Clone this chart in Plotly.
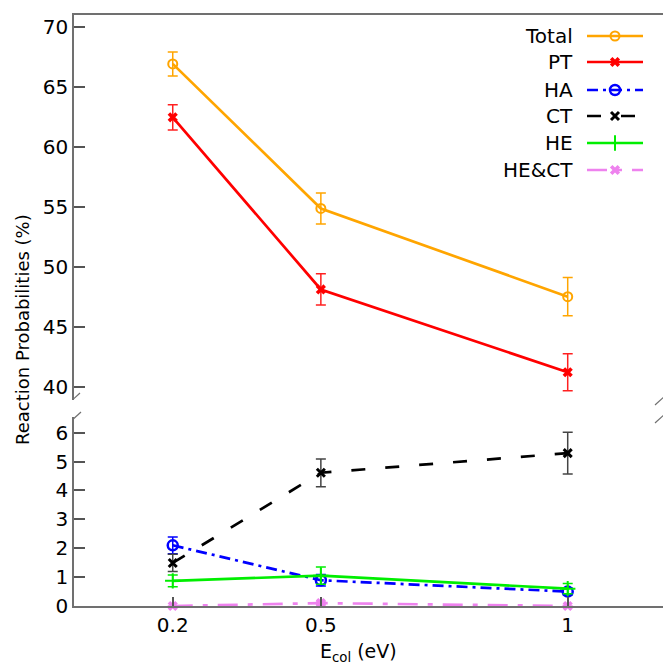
import plotly.graph_objects as go

# ---------------- data ----------------
energies = [0.2, 0.5, 1.0]
x_tick_text = ["0.2", "0.5", "1"]

total = [66.9, 54.85, 47.5]
total_err = [1.0, 1.3, 1.6]
pt = [62.45, 48.1, 41.2]
pt_err = [1.05, 1.3, 1.55]

ha = [2.1, 0.89, 0.5]
ha_err = [0.29, 0.2, 0.12]
ct = [1.49, 4.61, 5.29]
ct_err = [0.3, 0.48, 0.72]
he = [0.87, 1.05, 0.6]
he_err = [0.2, 0.3, 0.18]
hect = [0.0, 0.1, 0.0]
hect_err = [0.0, 0.04, 0.0]

upper_ticks = [40, 45, 50, 55, 60, 65, 70]
lower_ticks = [0, 1, 2, 3, 4, 5, 6]

FONT = "DejaVu Sans"
AXC = "#707070"

styles = {
    "Total": dict(color="#FFA500", dash="solid", symbol="circle-open", size=9, mlw=2, ecol="#FFA500"),
    "PT": dict(color="#FF0000", dash="solid", symbol="x", size=9, mlw=0, ecol="#FF2020"),
    "HA": dict(color="#0000FF", dash="11px,5px,3px,5px", symbol="circle-open", size=10, mlw=2.5, ecol="#0000FF"),
    "CT": dict(color="#000000", dash="14px,20px", symbol="x-thin-open", size=8, mlw=3, ecol="#444444"),
    "HE": dict(color="#00EE00", dash="solid", symbol="cross-thin-open", size=11, mlw=2, ecol="#00EE00"),
    "HE&CT": dict(color="#EE82EE", dash="20px,10px,5px,10px", symbol="x", size=9, mlw=0, ecol="#EE82EE"),
}

upper_series = [("Total", total, total_err), ("PT", pt, pt_err)]
lower_series = [("HA", ha, ha_err), ("CT", ct, ct_err), ("HE", he, he_err), ("HE&CT", hect, hect_err)]

fig = go.Figure()


def add_series(name, vals, errs, xa, ya):
    s = styles[name]
    fig.add_trace(go.Scatter(
        x=energies, y=vals, mode="lines+markers", name=name,
        xaxis=xa, yaxis=ya, showlegend=False, cliponaxis=False,
        line=dict(color=s["color"], width=2.7, dash=s["dash"]),
        marker=dict(symbol=s["symbol"], size=s["size"], color=s["color"],
                    line=dict(color=s["color"], width=s["mlw"])),
        error_y=dict(type="data", array=errs, color=s["ecol"], thickness=1.5, width=5),
    ))


for n, v, e in upper_series:
    add_series(n, v, e, "x2", "y2")
for n, v, e in lower_series:
    add_series(n, v, e, "x", "y")

# ---------------- manual legend (pixel overlay axis) ----------------
legend_rows = [36, 62, 90, 116, 143, 170]
annotations = []
for name, row in zip(list(styles.keys()), legend_rows):
    s = styles[name]
    fig.add_trace(go.Scatter(
        x=[587, 643], y=[row, row], mode="lines", xaxis="x3", yaxis="y3",
        showlegend=False, hoverinfo="skip", cliponaxis=False,
        line=dict(color=s["color"], width=2.7, dash=s["dash"]),
    ))
    fig.add_trace(go.Scatter(
        x=[615], y=[row], mode="markers", xaxis="x3", yaxis="y3",
        showlegend=False, hoverinfo="skip", cliponaxis=False,
        marker=dict(symbol=s["symbol"], size=s["size"], color=s["color"],
                    line=dict(color=s["color"], width=s["mlw"])),
    ))
    annotations.append(dict(
        x=575, y=row, xref="x3", yref="y3", text=name, showarrow=False,
        xanchor="right", yanchor="middle", font=dict(family=FONT, size=20, color="black"),
    ))

annotations.append(dict(
    x=(23 - 74) / 589, y=(606 - 330) / 591, xref="paper", yref="paper",
    text="Reaction Probabilities (%)",
    textangle=-90, showarrow=False, xanchor="center", yanchor="middle",
    font=dict(family=FONT, size=18, color="black"),
))
annotations.append(dict(
    x=(358 - 74) / 589, y=(606 - 652) / 591, xref="paper", yref="paper",
    text="E<sub>col</sub> (eV)",
    showarrow=False, xanchor="center", yanchor="middle",
    font=dict(family=FONT, size=19, color="black"),
))

# axis-break marks
shapes = []
for (x0, y0, x1, y1) in [(69, 403, 80, 393), (70, 422, 81, 412),
                         (655, 405, 666, 395), (655, 423, 666, 413)]:
    shapes.append(dict(type="line", xref="x3", yref="y3", x0=x0, y0=y0, x1=x1, y1=y1,
                       line=dict(color=AXC, width=1.2)))

tickfont = dict(family=FONT, size=20, color="black")
common_y = dict(ticks="inside", ticklen=11, tickcolor="#555555", tickwidth=1.5,
                showline=True, linecolor=AXC, linewidth=1.5, showgrid=False,
                zeroline=False, tickfont=tickfont, ticksuffix="  ")

fig.update_layout(
    width=663, height=665,
    margin=dict(l=74, r=0, t=15, b=59),
    paper_bgcolor="white", plot_bgcolor="rgba(0,0,0,0)",
    font=dict(family=FONT, size=18, color="black"),
    xaxis=dict(domain=[0, 1], anchor="y", range=[0, 1.193],
               tickvals=energies, ticktext=x_tick_text, ticks="inside", ticklen=9,
               tickcolor="#555555", tickwidth=1.5, showline=True, linecolor=AXC, linewidth=1.5,
               showgrid=False, zeroline=False, tickfont=tickfont),
    yaxis=dict(domain=[0, 0.3198], anchor="x", range=[0, 6.54], tickvals=lower_ticks, **common_y),
    xaxis2=dict(domain=[0, 1], anchor="y2", matches="x", side="top", showline=True,
                linecolor=AXC, linewidth=1.5, ticks="", showticklabels=False,
                showgrid=False, zeroline=False),
    yaxis2=dict(domain=[0.3486, 1], anchor="x2", range=[38.89, 70.975], tickvals=upper_ticks, **common_y),
    xaxis3=dict(domain=[0, 1], anchor="y3", range=[74, 663], visible=False, fixedrange=True),
    yaxis3=dict(domain=[0, 1], anchor="x3", range=[606, 15], visible=False, fixedrange=True),
    annotations=annotations,
    shapes=shapes,
)

fig.write_html("out.html")
